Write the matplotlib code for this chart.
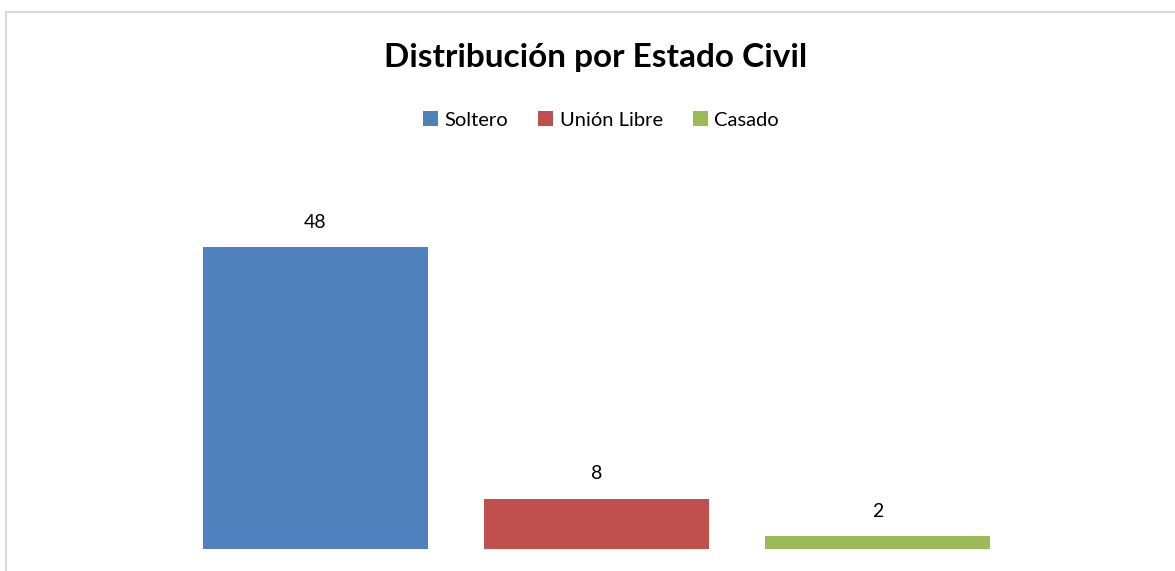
import matplotlib
matplotlib.use("Agg")
import matplotlib.pyplot as plt
from matplotlib.patches import Rectangle, Patch

categories = ["Soltero", "Unión Libre", "Casado"]
values = [48, 8, 2]
colors = ["#4f81bd", "#c0504d", "#9bbb59"]
title = "Distribución por Estado Civil"

plt.rcParams['font.family'] = ['Lato', 'DejaVu Sans']

W, H = 1175, 571
fig = plt.figure(figsize=(W / 100, H / 100), dpi=100)
fig.patch.set_facecolor("white")

# outer chart border (cropped on right and bottom)
fig.add_artist(Rectangle((5.5 / W, -0.1), 1.2, 1 - 11.5 / H + 0.1, transform=fig.transFigure,
                         fill=False, edgecolor="#d9d9d9", linewidth=1.5))

ax = fig.add_axes([175 / W, 22 / H, 843 / W, 377 / H])
x = range(len(categories))
bars = ax.bar(x, values, width=0.8, color=colors)
ax.set_xlim(-0.5, 2.5)
ax.set_ylim(0, 60)
ax.axis("off")
for b, v in zip(bars, values):
    ax.annotate(str(v), (b.get_x() + b.get_width() / 2, v), xytext=(0, 12),
                textcoords="offset points", ha="center", va="bottom", fontsize=14)

fig.text(596 / W, 1 - 57 / H, title, ha="center", va="center", fontsize=24, fontweight="bold")

handles = [Patch(facecolor=c, label=l) for c, l in zip(colors, categories)]
fig.legend(handles=handles, loc="center", bbox_to_anchor=(601 / W, 1 - 120 / H), ncol=3,
           frameon=False, fontsize=14.5, handlelength=0.75, handleheight=0.75,
           handletextpad=0.3, columnspacing=1.5)

fig.savefig("out.png", dpi=100)
